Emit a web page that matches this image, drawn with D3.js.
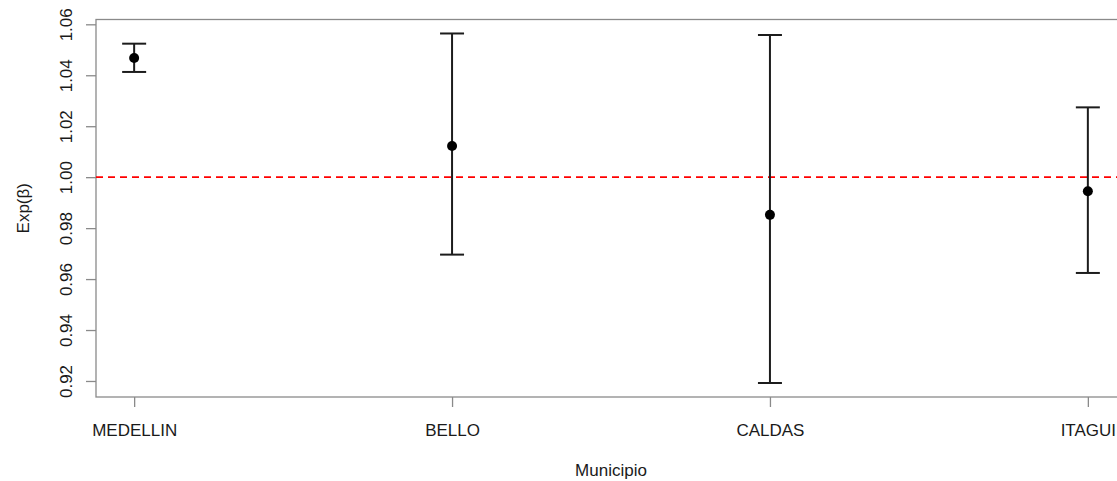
<!DOCTYPE html>
<html>
<head>
<meta charset="utf-8">
<script src="https://cdn.jsdelivr.net/npm/d3@7"></script>
<style>
  html, body { margin: 0; padding: 0; background: #fff; }
  svg { display: block; font-family: "Liberation Sans", Arial, sans-serif; }
</style>
</head>
<body>
<svg id="chart" width="1117" height="481"></svg>
<script>
const categories = ["MEDELLIN", "BELLO", "CALDAS", "ITAGUI"];
const estimate = [1.0468, 1.0122, 0.9852, 0.9945];
const lower = [1.0413, 0.9696, 0.9192, 0.9624];
const upper = [1.0524, 1.0564, 1.0558, 1.0274];
const yTicks = [0.92, 0.94, 0.96, 0.98, 1.00, 1.02, 1.04, 1.06];
const refValue = 1.0;

(function () {
const svg = d3.select("#chart");
const mL = 96, mR = 1126, mT = 19.5, mB = 397;

const ymin = d3.min(lower), ymax = d3.max(upper);
const pad = (ymax - ymin) * 0.04;
const y = d3.scaleLinear().domain([ymin - pad, ymax + pad]).range([mB, mT]);
const n = categories.length;
const xpad = (n - 1) * 0.04;
const x = d3.scaleLinear().domain([1 - xpad, n + xpad]).range([mL, mR]);

const axisColor = "#8a8a8a";
const textColor = "#1a1a1a";

svg.append("rect")
  .attr("x", mL).attr("y", mT)
  .attr("width", mR - mL).attr("height", mB - mT)
  .attr("fill", "none").attr("stroke", axisColor).attr("stroke-width", 1.3);

const gy = svg.append("g").attr("transform", `translate(${mL},0)`)
  .call(d3.axisLeft(y).tickValues(yTicks).tickSize(10).tickFormat(d3.format(".2f")));
gy.select(".domain").remove();
gy.selectAll(".tick line").attr("stroke", axisColor).attr("stroke-width", 1.3);
gy.selectAll(".tick text")
  .attr("x", null).attr("dy", null)
  .attr("transform", "translate(-24,0) rotate(-90)")
  .attr("text-anchor", "middle")
  .attr("fill", textColor)
  .style("font-size", "17px")
  .style("font-family", "'Liberation Sans', Arial, sans-serif");

const gx = svg.append("g").attr("transform", `translate(0,${mB})`)
  .call(d3.axisBottom(x).tickValues(d3.range(1, n + 1)).tickSize(10)
    .tickFormat(i => categories[i - 1]));
gx.select(".domain").remove();
gx.selectAll(".tick line").attr("stroke", axisColor).attr("stroke-width", 1.3);
gx.selectAll(".tick text")
  .attr("y", 38.5).attr("dy", null)
  .attr("fill", textColor)
  .style("font-size", "17px")
  .style("font-family", "'Liberation Sans', Arial, sans-serif");

svg.append("text")
  .attr("x", (mL + mR) / 2).attr("y", 476)
  .attr("text-anchor", "middle").attr("fill", textColor)
  .style("font-size", "17px")
  .text("Municipio");
svg.append("text")
  .attr("transform", `translate(29,${(mT + mB) / 2}) rotate(-90)`)
  .attr("text-anchor", "middle").attr("fill", textColor)
  .style("font-size", "17px")
  .text("Exp(β)");

svg.append("line")
  .attr("x1", mL).attr("x2", mR)
  .attr("y1", y(refValue)).attr("y2", y(refValue))
  .attr("stroke", "#ff0000").attr("stroke-width", 1.6)
  .attr("stroke-dasharray", "7,5");

const data = categories.map((c, i) => ({ i: i + 1, est: estimate[i], lo: lower[i], hi: upper[i] }));
const barColor = "#1c1c1c";
const cap = 12;
const g = svg.append("g");
g.selectAll("line.v").data(data).join("line").attr("class", "v")
  .attr("x1", d => x(d.i)).attr("x2", d => x(d.i))
  .attr("y1", d => y(d.lo)).attr("y2", d => y(d.hi))
  .attr("stroke", barColor).attr("stroke-width", 2);
g.selectAll("line.hi").data(data).join("line").attr("class", "hi")
  .attr("x1", d => x(d.i) - cap).attr("x2", d => x(d.i) + cap)
  .attr("y1", d => y(d.hi)).attr("y2", d => y(d.hi))
  .attr("stroke", barColor).attr("stroke-width", 2);
g.selectAll("line.lo").data(data).join("line").attr("class", "lo")
  .attr("x1", d => x(d.i) - cap).attr("x2", d => x(d.i) + cap)
  .attr("y1", d => y(d.lo)).attr("y2", d => y(d.lo))
  .attr("stroke", barColor).attr("stroke-width", 2);
g.selectAll("circle").data(data).join("circle")
  .attr("cx", d => x(d.i)).attr("cy", d => y(d.est))
  .attr("r", 5).attr("fill", "#000");
})();
</script>
</body>
</html>
